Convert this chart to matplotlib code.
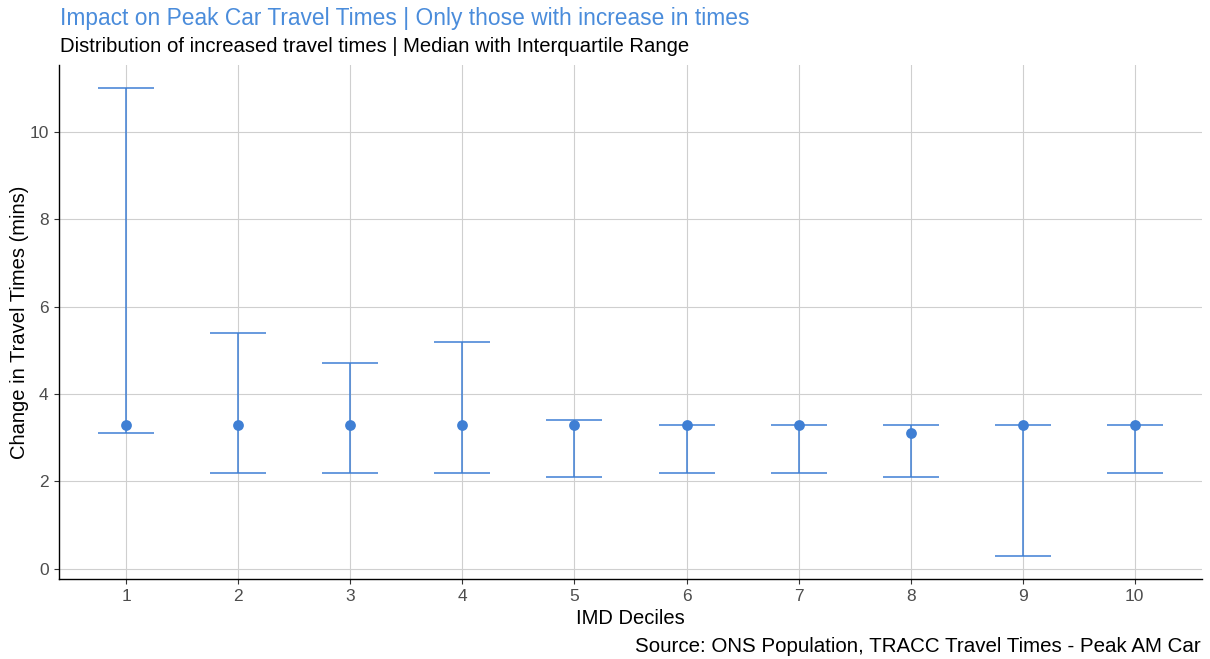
import matplotlib
matplotlib.use("Agg")
import matplotlib.pyplot as plt
import numpy as np

plt.rcParams['font.family'] = ['Liberation Sans', 'DejaVu Sans']

deciles = ['1', '2', '3', '4', '5', '6', '7', '8', '9', '10']
median = [3.3, 3.3, 3.3, 3.3, 3.3, 3.3, 3.3, 3.1, 3.3, 3.3]
q1 = [3.1, 2.2, 2.2, 2.2, 2.1, 2.2, 2.2, 2.1, 0.3, 2.2]
q3 = [11.0, 5.4, 4.7, 5.2, 3.4, 3.3, 3.3, 3.3, 3.3, 3.3]

col = '#3F7FD4'
fig = plt.figure(figsize=(12.1, 6.59), dpi=100)
ax = fig.add_axes([59/1210, 80/659, (1202-59)/1210, (579-65)/659])

x = np.arange(1, len(deciles) + 1)
ax.vlines(x, q1, q3, color=col, lw=1.1, zorder=3)
ax.hlines(q1, x - 0.25, x + 0.25, color=col, lw=1.1, zorder=3)
ax.hlines(q3, x - 0.25, x + 0.25, color=col, lw=1.1, zorder=3)
ax.scatter(x, median, s=60, color=col, zorder=4, linewidths=0)

ax.set_xlim(0.4, 10.6)
ax.set_ylim(-0.235, 11.535)
ax.set_xticks(x)
ax.set_xticklabels(deciles)
ax.set_yticks([0, 2, 4, 6, 8, 10])
ax.grid(True, color='#cfcfcf', lw=0.8)
ax.set_axisbelow(True)
for s in ['top', 'right']:
    ax.spines[s].set_visible(False)
for s in ['left', 'bottom']:
    ax.spines[s].set_color('black')
    ax.spines[s].set_linewidth(1.0)
ax.tick_params(axis='both', colors='#4d4d4d', labelsize=12.5, length=3.5, color='#333333', pad=4)

ax.set_xlabel('IMD Deciles', fontsize=14.5, color='black', labelpad=3)
ax.set_ylabel('Change in Travel Times (mins)', fontsize=14.5, color='black', labelpad=0)

fig.text(60/1210, 1 - 18.5/659, 'Impact on Peak Car Travel Times | Only those with increase in times',
         color='#4A8CDB', fontsize=16.4, va='center', ha='left')
fig.text(60/1210, 1 - 47/659, 'Distribution of increased travel times | Median with Interquartile Range',
         color='black', fontsize=14.6, va='center', ha='left')
fig.text(1201/1210, 1 - 646/659, 'Source: ONS Population, TRACC Travel Times - Peak AM Car',
         color='black', fontsize=14.8, va='center', ha='right')

fig.savefig('out.png', dpi=100)
